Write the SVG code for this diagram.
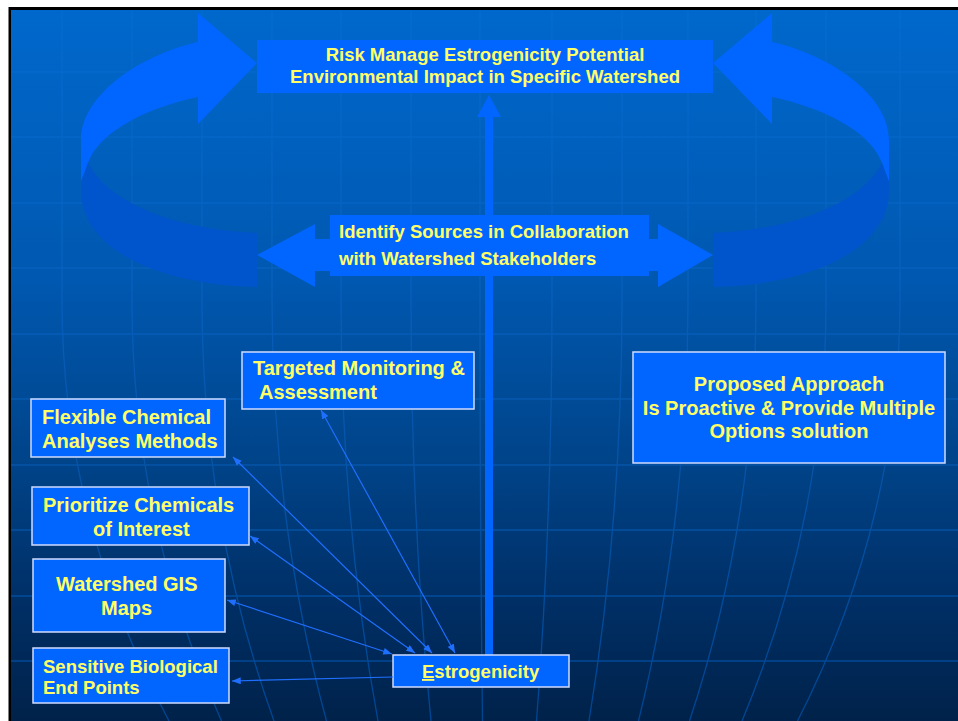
<svg xmlns="http://www.w3.org/2000/svg" width="958" height="721" viewBox="0 0 958 721">
<defs>
<linearGradient id="bg" x1="0" y1="10" x2="0" y2="721" gradientUnits="userSpaceOnUse">
<stop offset="0" stop-color="#0068cc"/>
<stop offset="0.38" stop-color="#0058b0"/>
<stop offset="0.63" stop-color="#00448a"/>
<stop offset="0.83" stop-color="#002f66"/>
<stop offset="1" stop-color="#00224a"/>
</linearGradient>
<linearGradient id="gl" x1="0" y1="10" x2="0" y2="721" gradientUnits="userSpaceOnUse">
<stop offset="0" stop-color="#046bd0"/>
<stop offset="0.38" stop-color="#0660be"/>
<stop offset="0.63" stop-color="#0654a8"/>
<stop offset="1" stop-color="#004592"/>
</linearGradient>
<marker id="ah" viewBox="0 0 10 8" refX="10" refY="4" markerWidth="9" markerHeight="7" markerUnits="userSpaceOnUse" orient="auto-start-reverse">
<path d="M0,0 L10,4 L0,8 Z" fill="#1f6fff"/>
</marker>
<g id="arcShape">
<path class="light" d="M198,42 L198,13 L257,63 L198,124 L198,97 C150,107 100,130 88,163 L81,182 L81,140 C81,95 140,55 198,42 Z"/>
<path class="dark" d="M88,163 C110,205 180,230 257,233 L257,287 C160,285 81,250 81,190 L81,182 Z"/>
</g>
</defs>
<style>
.light{fill:#0066ff}
.dark{fill:#0055cc}
.fill{fill:#0066ff}
.box{fill:#0066ff;stroke:#d0dcff;stroke-width:1.5}
.t{font-family:"Liberation Sans",Arial,sans-serif;font-weight:bold;fill:#ffff66}
.s20{font-size:20px}
.s18{font-size:18.5px}
.grid{stroke:url(#gl);stroke-width:1.3;fill:none}
.conn{stroke:#1f6fff;stroke-width:1.2;fill:none}
</style>

<g id="background">
<rect x="0" y="0" width="958" height="721" fill="#ffffff"/>
<rect x="8.5" y="7" width="950" height="714" fill="#000000"/>
<rect x="11" y="10" width="947" height="711" fill="url(#bg)"/>
<g class="grid">
<path d="M11,72H958M11,137H958M11,203H958M11,268H958M11,334H958M11,399H958M11,465H958M11,530H958M11,596H958M11,661H958"/>
<path d="M62,10 L62,300 Q62,520 169,721"/>
<path d="M132,10 L132,300 Q132,520 221.5,721"/>
<path d="M202,10 L202,300 Q202,520 274,721"/>
<path d="M272,10 L272,300 Q272,520 326.5,721"/>
<path d="M341,10 L341,300 Q341,520 378,721"/>
<path d="M411,10 L411,300 Q411,520 431,721"/>
<path d="M480,10 L480,300 Q480,520 482.5,721"/>
<path d="M552,10 L552,300 Q552,520 536.5,721"/>
<path d="M622,10 L622,300 Q622,520 589,721"/>
<path d="M688,10 L688,300 Q688,520 638.5,721"/>
<path d="M756,10 L756,300 Q756,520 689.5,721"/>
<path d="M826,10 L826,300 Q826,520 742,721"/>
<path d="M900,10 L900,300 Q900,520 797.5,721"/>
</g>
</g>

<g id="cycle-arrows">
<use href="#arcShape"/>
<use href="#arcShape" transform="matrix(-1 0 0 1 970 0)"/>
</g>

<g id="main-arrow">
<rect class="fill" x="485" y="115" width="8" height="541"/>
<path class="fill" d="M477,117 L489,95 L501,117 Z"/>
</g>

<g id="node-risk">
<rect class="fill" x="257" y="40" width="456" height="53"/>
<text class="t s18" text-anchor="middle" x="485" y="61">Risk Manage Estrogenicity Potential</text>
<text class="t s18" text-anchor="middle" x="485" y="83">Environmental Impact in Specific Watershed</text>
</g>

<g id="node-identify">
<path class="fill" d="M257,255 L315,224 L315,239 L330,239 L330,215 L649,215 L649,239 L658,239 L658,224 L713,255 L658,287 L658,271 L649,271 L649,276 L330,276 L330,271 L315,271 L315,287 Z"/>
<text class="t s18" x="339" y="238">Identify Sources in Collaboration</text>
<text class="t s18" x="339" y="265">with Watershed Stakeholders</text>
</g>

<g id="node-targeted">
<rect class="box" x="242" y="352" width="232" height="57"/>
<text class="t s20" x="253" y="375">Targeted Monitoring &amp;</text>
<text class="t s20" x="259" y="399">Assessment</text>
</g>

<g id="node-flexible">
<rect class="box" x="31" y="399" width="194" height="58"/>
<text class="t s20" x="42" y="424">Flexible Chemical</text>
<text class="t s20" x="42" y="448">Analyses Methods</text>
</g>

<g id="node-prioritize">
<rect class="box" x="32" y="487" width="217" height="58"/>
<text class="t s20" x="43" y="512">Prioritize Chemicals</text>
<text class="t s20" x="93" y="536">of Interest</text>
</g>

<g id="node-gis">
<rect class="box" x="33" y="559" width="192" height="73"/>
<text class="t s20" x="56" y="591">Watershed GIS</text>
<text class="t s20" x="101" y="615">Maps</text>
</g>

<g id="node-sensitive">
<rect class="box" x="33" y="648" width="196" height="55"/>
<text class="t s18" x="43" y="673">Sensitive Biological</text>
<text class="t s18" x="43" y="694">End Points</text>
</g>

<g id="node-estrogenicity">
<rect class="box" x="393" y="655" width="176" height="32"/>
<text class="t s18" x="422" y="678"><tspan text-decoration="underline">E</tspan>strogenicity</text>
</g>

<g id="node-proposed">
<rect class="box" x="633" y="352" width="312" height="111"/>
<text class="t s20" text-anchor="middle" x="789" y="391">Proposed Approach</text>
<text class="t s20" text-anchor="middle" x="789" y="415">Is Proactive &amp; Provide Multiple</text>
<text class="t s20" text-anchor="middle" x="789" y="438">Options solution</text>
</g>

<g id="connectors" class="conn">
<path d="M455,653 L321,410" marker-start="url(#ah)" marker-end="url(#ah)"/>
<path d="M432,653 L233,457" marker-start="url(#ah)" marker-end="url(#ah)"/>
<path d="M415,653 L250,536" marker-start="url(#ah)" marker-end="url(#ah)"/>
<path d="M392,654 L227,600" marker-start="url(#ah)" marker-end="url(#ah)"/>
<path d="M393,677 L232,681" marker-end="url(#ah)"/>
</g>
</svg>
